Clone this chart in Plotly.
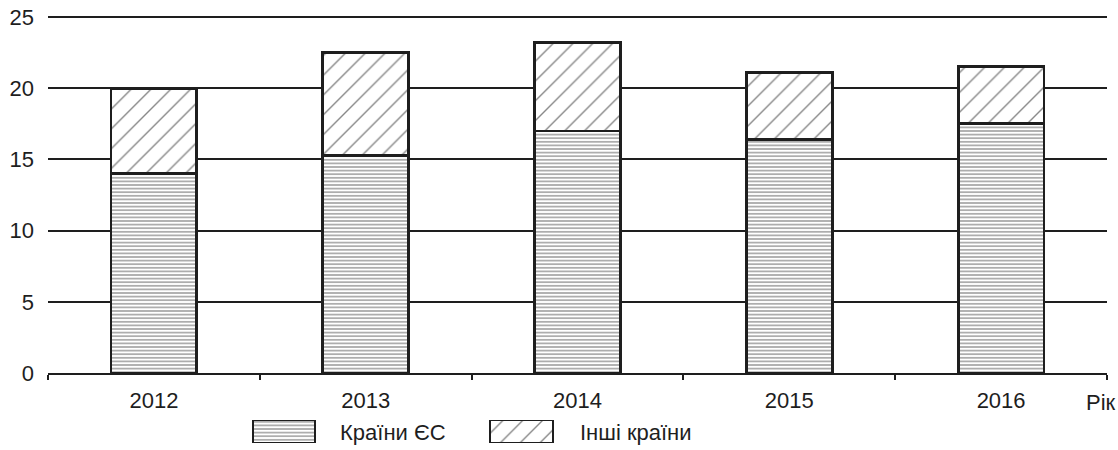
import plotly.graph_objects as go

years = ["2012", "2013", "2014", "2015", "2016"]
eu = [14.0, 15.3, 17.0, 16.4, 17.5]
other = [6.0, 7.2, 6.2, 4.7, 4.0]
yticks = [0, 5, 10, 15, 20, 25]
names = ["Країни ЄС", "Інші країни"]

W, H = 1118, 450
ML, MR, MT, MB = 48, 11, 14, 5
PW = W - ML - MR
PH = H - MT - MB
Y0 = 373   # pixel row of value 0
Y25 = 17   # pixel row of value 25
YTOP = 25 + (Y25 - MT) * 25 / (Y0 - Y25)

def py(px):  # pixel y -> paper fraction
    return (H - MB - px) / PH

def pxx(px):
    return (px - ML) / PW

FONT = "Liberation Sans, Arial, sans-serif"
EDGE = "#1e1e1e"
HPAT = dict(shape="-", fgcolor="#3a3a3a", bgcolor="white", size=3.6, solidity=0.42)
DPAT = dict(shape="/", fgcolor="#111111", bgcolor="white", size=14, solidity=0.1)

fig = go.Figure()
fig.add_trace(go.Bar(
    x=years, y=eu, name=names[0], width=0.405,
    marker=dict(color="white", line=dict(color=EDGE, width=2.8), pattern=HPAT),
    showlegend=False,
))
fig.add_trace(go.Bar(
    x=years, y=other, name=names[1], width=0.405,
    marker=dict(color="white", line=dict(color=EDGE, width=2.8), pattern=DPAT),
    showlegend=False,
))

# custom legend swatches on a hidden axis
leg_centers = [pxx(284), pxx(521.5)]
fig.add_trace(go.Bar(
    x=[leg_centers[0]], y=[1], width=[62 / PW], xaxis="x2", yaxis="y2", showlegend=False,
    marker=dict(color="white", line=dict(color=EDGE, width=2.8), pattern=HPAT),
    hoverinfo="skip",
))
fig.add_trace(go.Bar(
    x=[leg_centers[1]], y=[1], width=[63 / PW], xaxis="x2", yaxis="y2", showlegend=False,
    marker=dict(color="white", line=dict(color=EDGE, width=2.8), pattern=DPAT),
    hoverinfo="skip",
))

fig.update_layout(
    barmode="stack",
    width=W, height=H,
    margin=dict(l=ML, r=MR, t=MT, b=MB, autoexpand=False),
    paper_bgcolor="white", plot_bgcolor="white",
    font=dict(family=FONT, size=22, color="#1e1e1e"),
    xaxis=dict(
        type="category", range=[-0.5, 4.5], tickson="boundaries",
        ticks="outside", ticklen=5, tickwidth=1.5, tickcolor=EDGE,
        showline=True, linecolor=EDGE, linewidth=2, showgrid=False,
        ticklabelstandoff=7, anchor="y",
        tickfont=dict(size=22),
    ),
    yaxis=dict(
        range=[0, YTOP], tickvals=yticks, domain=[py(Y0), 1],
        showgrid=True, gridcolor=EDGE, gridwidth=1.6,
        zeroline=False, showline=False, ticks="", ticklabelstandoff=13,
        tickfont=dict(size=22),
    ),
    xaxis2=dict(range=[0, 1], domain=[0, 1], anchor="y2", visible=False),
    yaxis2=dict(range=[0, 1], domain=[py(443), py(420)], anchor="x2", visible=False),
    annotations=[
        dict(text=names[0], x=pxx(338), y=py(432), xref="paper", yref="paper",
             xanchor="left", yanchor="middle", showarrow=False, font=dict(size=22)),
        dict(text=names[1], x=pxx(578), y=py(432), xref="paper", yref="paper",
             xanchor="left", yanchor="middle", showarrow=False, font=dict(size=22)),
        dict(text="Рік", x=pxx(1118), y=py(402), xref="paper", yref="paper",
             xanchor="right", yanchor="middle", showarrow=False, font=dict(size=22)),
    ],
)

fig.write_html(
    "out.html",
    config={"displayModeBar": False},
    post_script="document.body.style.margin='0';document.body.style.overflow='hidden';",
)
